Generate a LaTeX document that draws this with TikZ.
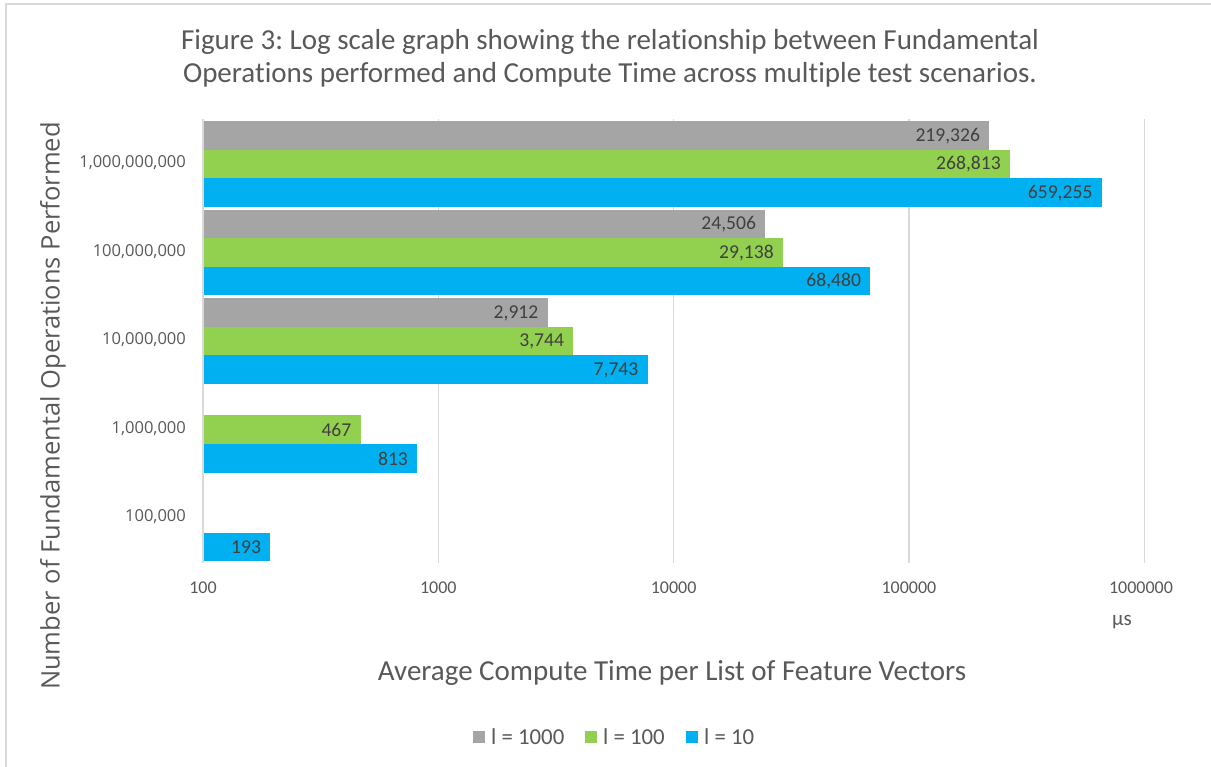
\documentclass[tikz,border=0pt]{standalone}
\usepackage{fontspec}
\setmainfont[Ligatures=NoCommon]{Carlito}
\newfontfamily\segoe{Open Sans}
\frenchspacing
\definecolor{barGray}{HTML}{A5A5A5}
\definecolor{barGreen}{HTML}{92D050}
\definecolor{barBlue}{HTML}{00B0F0}
\definecolor{gridCol}{HTML}{D9D9D9}
\definecolor{txtCol}{HTML}{595959}
\definecolor{lblCol}{HTML}{404040}
\tikzset{
  bar/.style={fill=#1, draw=none},
  grid line/.style={draw=gridCol, line width=1.3pt},
  datalabel/.style={anchor=east, inner sep=0pt, text=lblCol, font=\fontsize{19.6}{22}\selectfont},
  catlabel/.style={anchor=east, inner sep=0pt, text=txtCol, font=\segoe\fontsize{16.5}{18}\selectfont},
  ticklabel/.style={anchor=center, inner sep=0pt, text=txtCol, font=\fontsize{18}{20}\selectfont},
  titletext/.style={align=center, text=txtCol, font=\fontsize{29}{33}\selectfont, inner sep=0pt},
  axistitle/.style={text=txtCol, inner sep=0pt, font=\fontsize{29}{32}\selectfont},
  legendbox/.style={fill=#1, draw=none, minimum size=12pt, inner sep=0pt},
  legendtext/.style={anchor=west, inner sep=0pt, text=txtCol, font=\fontsize{22.8}{24}\selectfont},
}
\begin{document}
\begin{tikzpicture}[x=1pt,y=-1pt]
\useasboundingbox (0,0) rectangle (1211,767);
\fill[white] (0,0) rectangle (1211,767);
% outer frame
\draw[draw=gridCol, line width=2pt] (5.5,767) -- (5.5,4.5) -- (1211,4.5);
% title
\node[titletext] (title) at (610,58) {Figure 3: Log scale graph showing the relationship between Fundamental\\Operations performed and Compute Time across multiple test scenarios.};
% gridlines
\foreach \gx/\gn in {203.0/g0, 438.3/g1, 673.6/g2, 908.9/g3, 1144.2/g4}{
  \coordinate (\gn top) at (\gx,119);
  \coordinate (\gn bot) at (\gx,563);
  \draw[grid line] (\gn top) -- (\gn bot);
}
% bars
\newcommand\barrow[5]{% #1 y top, #2 x end, #3 colour, #4 label, #5 name
  \fill[bar=#3] (203.6,#1) rectangle (#2,#1+28.5);
  \node[datalabel] (#5) at (#2-9,#1+14.5) {#4};
}
\barrow{121.5}{989.2}{barGray}{219,326}{a1}
\barrow{150}{1009.9}{barGreen}{268,813}{a2}
\barrow{178.5}{1101.6}{barBlue}{659,255}{a3}
\barrow{210}{765.2}{barGray}{24,506}{b1}
\barrow{238.5}{782.9}{barGreen}{29,138}{b2}
\barrow{267}{870.2}{barBlue}{68,480}{b3}
\barrow{298.5}{547.5}{barGray}{2,912}{c1}
\barrow{327}{573.2}{barGreen}{3,744}{c2}
\barrow{355.5}{647.5}{barBlue}{7,743}{c3}
\barrow{415.5}{360.5}{barGreen}{467}{d2}
\barrow{444}{417.1}{barBlue}{813}{d3}
\barrow{532.5}{270.2}{barBlue}{193}{e3}
% category labels
\node[catlabel] (c1e9) at (186,163) {1,000,000,000};
\node[catlabel] (c1e8) at (186,251.5) {100,000,000};
\node[catlabel] (c1e7) at (186,340) {10,000,000};
\node[catlabel] (c1e6) at (186,428.5) {1,000,000};
\node[catlabel] (c1e5) at (186,517) {100,000};
% x tick labels
\node[ticklabel] (t0) at (203,588) {100};
\node[ticklabel] (t1) at (438.3,588) {1000};
\node[ticklabel] (t2) at (673.6,588) {10000};
\node[ticklabel] (t3) at (908.9,588) {100000};
\node[ticklabel] (t4) at (1141,588) {1000000};
\node[ticklabel, font=\fontsize{21}{23}\selectfont] (unit) at (1122,622) {µs};
% axis titles
\node[axistitle] (xtitle) at (672,673) {Average Compute Time per List of Feature Vectors};
\node[axistitle, rotate=90, font=\segoe\fontsize{25.5}{28}\selectfont] (ytitle) at (53,406) {Number of Fundamental Operations Performed};
% legend
\node[legendbox=barGray] (lg1) at (479,737) {};
\node[legendtext] (lt1) at (491,737) {l = 1000};
\node[legendbox=barGreen] (lg2) at (591,737) {};
\node[legendtext] (lt2) at (603,737) {l = 100};
\node[legendbox=barBlue] (lg3) at (692,737) {};
\node[legendtext] (lt3) at (704,737) {l = 10};
\end{tikzpicture}
\end{document}
